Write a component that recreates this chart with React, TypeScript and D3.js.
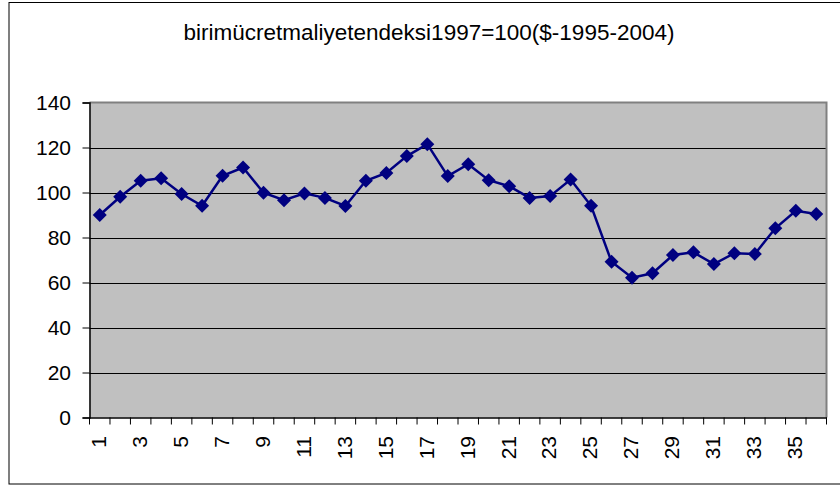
import React, { useEffect, useRef } from 'react';
import * as d3 from 'd3';

const title = 'birimücretmaliyetendeksi1997=100($-1995-2004)';
const periods = d3.range(1, 37).map(String);
const values = [
  90.0, 98.1, 105.2, 106.3, 99.3, 94.1, 107.4, 111.1, 99.9, 96.6,
  99.6, 97.6, 94.0, 105.2, 108.7, 116.2, 121.5, 107.3, 112.6, 105.5,
  102.8, 97.6, 98.4, 105.8, 94.1, 69.2, 62.1, 64.1, 72.2, 73.4,
  68.2, 73.0, 72.7, 84.1, 91.9, 90.4,
];
const yTicks = [0, 20, 40, 60, 80, 100, 120, 140];

const W = 840;
const H = 486;
const plot = { left: 89.5, right: 826.5, top: 102.5, bottom: 417.5 };
const font = 'Arial, "Liberation Sans", sans-serif';

export default function App() {
  const ref = useRef<SVGSVGElement>(null);

  useEffect(() => {
    const svg = d3.select(ref.current);
    svg.selectAll('*').remove();

    const x = d3.scaleBand().domain(periods).range([plot.left, plot.right]);
    const y = d3.scaleLinear().domain([0, 140]).range([plot.bottom, plot.top]);

    // outer frame
    svg.append('rect')
      .attr('x', 9).attr('y', 2.5)
      .attr('width', W).attr('height', 481.5)
      .attr('fill', '#fff').attr('stroke', '#000').attr('stroke-width', 1);

    svg.append('text')
      .attr('x', 429).attr('y', 40)
      .attr('text-anchor', 'middle')
      .attr('font-family', font).attr('font-size', 22.5)
      .text(title);

    // plot area
    svg.append('rect')
      .attr('x', plot.left).attr('y', plot.top)
      .attr('width', plot.right - plot.left).attr('height', plot.bottom - plot.top)
      .attr('fill', '#c0c0c0');

    svg.append('g')
      .selectAll('line')
      .data(yTicks.filter(t => t > 0 && t < 140))
      .join('line')
      .attr('x1', plot.left).attr('x2', plot.right)
      .attr('y1', d => Math.round(y(d)) + 0.5).attr('y2', d => Math.round(y(d)) + 0.5)
      .attr('stroke', '#000').attr('stroke-width', 1);

    // gray border top / right
    svg.append('path')
      .attr('d', `M${plot.left},${plot.top}H${plot.right}V${plot.bottom}`)
      .attr('fill', 'none').attr('stroke', '#808080').attr('stroke-width', 2);

    // y axis
    const yAxis = svg.append('g')
      .attr('transform', `translate(${plot.left},0)`)
      .call(d3.axisLeft(y).tickValues(yTicks).tickSize(7).tickPadding(11.5));
    yAxis.select('.domain').attr('stroke', '#000').attr('stroke-width', 1.5);
    yAxis.selectAll('.tick text')
      .attr('font-family', font).attr('font-size', 21).attr('fill', '#000');

    // x axis
    const xAxis = svg.append('g')
      .attr('transform', `translate(0,${plot.bottom})`)
      .call(d3.axisBottom(x).tickSize(0).tickFormat(() => ''));
    xAxis.select('.domain').attr('stroke', '#000').attr('stroke-width', 1.5);

    const bounds = d3.range(0, periods.length + 1).map(i => plot.left + i * x.step());
    svg.append('g')
      .selectAll('line')
      .data(bounds)
      .join('line')
      .attr('x1', d => d).attr('x2', d => d)
      .attr('y1', plot.bottom).attr('y2', plot.bottom + 7)
      .attr('stroke', '#000');

    svg.append('g')
      .selectAll('text')
      .data(periods.filter((_, i) => i % 2 === 0))
      .join('text')
      .attr('transform', d => `translate(${x(d)! + x.bandwidth() / 2 - 1},436) rotate(-90)`)
      .attr('text-anchor', 'end')
      .attr('dy', '0.35em')
      .attr('font-family', font).attr('font-size', 21)
      .text(d => d);

    // series
    const line = d3.line<number>()
      .x((_, i) => x(periods[i])! + x.bandwidth() / 2)
      .y(d => y(d));

    svg.append('path')
      .datum(values)
      .attr('d', line)
      .attr('fill', 'none').attr('stroke', '#000080').attr('stroke-width', 2.5);

    svg.append('g')
      .selectAll('path')
      .data(values)
      .join('path')
      .attr('transform', (d, i) => `translate(${x(periods[i])! + x.bandwidth() / 2},${y(d)})`)
      .attr('d', 'M0,-7L7,0L0,7L-7,0Z')
      .attr('fill', '#000080');
  }, []);

  return (
    <svg ref={ref} width={W} height={H}
      style={{ position: 'absolute', left: 0, top: 0, background: '#fff' }} />
  );
}
